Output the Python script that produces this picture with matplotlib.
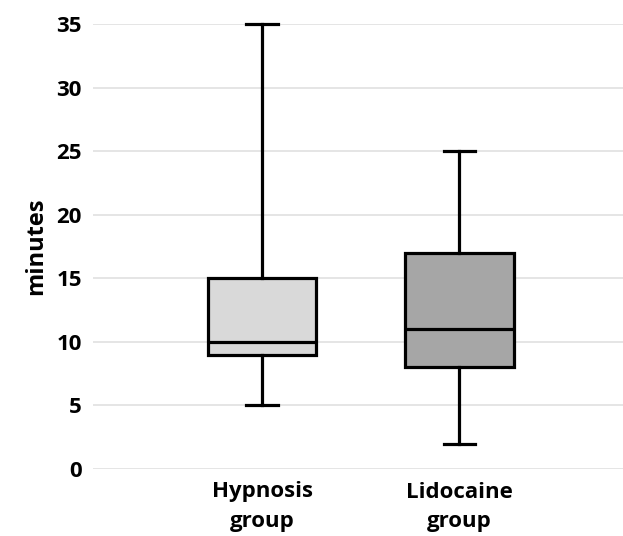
import matplotlib
matplotlib.use("Agg")
import matplotlib.pyplot as plt

groups = ["Hypnosis\ngroup", "Lidocaine\ngroup"]
mins = [5, 2]
q1s = [9, 8]
medians = [10, 11]
q3s = [15, 17]
maxs = [35, 25]
fills = ["#d9d9d9", "#a6a6a6"]

plt.rcParams["font.family"] = ["Open Sans", "DejaVu Sans"]
plt.rcParams["font.weight"] = "bold"

stats = []
for i, g in enumerate(groups):
    stats.append({"label": g, "whislo": mins[i], "q1": q1s[i], "med": medians[i],
                  "q3": q3s[i], "whishi": maxs[i], "fliers": []})

fig = plt.figure(figsize=(6.23, 5.36), dpi=100)
ax = fig.add_axes([0.149, 0.125, 0.851, 0.83])

lw = 2.3
bp = ax.bxp(stats, positions=[1, 2], widths=0.55, patch_artist=True,
            showfliers=False, capwidths=0.16,
            boxprops=dict(linewidth=lw, edgecolor="black"),
            medianprops=dict(color="black", linewidth=lw),
            whiskerprops=dict(color="black", linewidth=lw),
            capprops=dict(color="black", linewidth=lw))
for patch, c in zip(bp["boxes"], fills):
    patch.set_facecolor(c)
for art in bp["caps"] + bp["whiskers"]:
    art.set_clip_on(False)

ax.set_xlim(0.142, 2.83)
ax.set_ylim(0, 35)
ax.set_yticks(range(0, 36, 5))
ax.yaxis.grid(True, color="#e0e0e0", linewidth=1.2)
ax.set_axisbelow(True)
for s in ax.spines.values():
    s.set_visible(False)
ax.tick_params(axis="both", length=0, labelsize=16)
ax.tick_params(axis="y", pad=8)
ax.tick_params(axis="x", pad=9)
for lab in ax.get_xticklabels() + ax.get_yticklabels():
    lab.set_fontweight("bold")
for lab in ax.get_xticklabels():
    lab.set_linespacing(1.5)
ax.set_ylabel("minutes", fontsize=17, fontweight="bold", labelpad=6)

fig.savefig("out.png", dpi=100)
